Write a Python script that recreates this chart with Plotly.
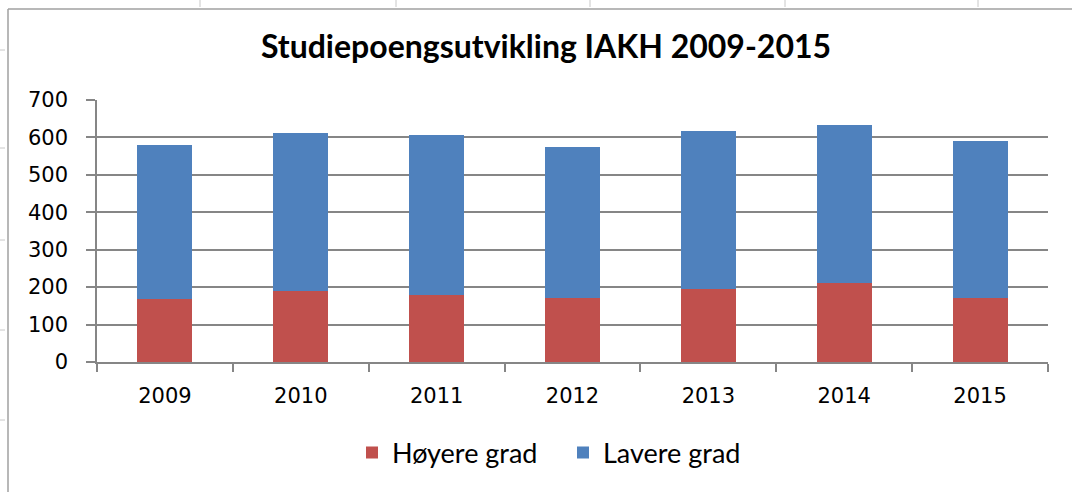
import plotly.graph_objects as go

years = ["2009", "2010", "2011", "2012", "2013", "2014", "2015"]
hoyere = [168, 190, 179, 172, 195, 211, 172]
lavere = [411, 422, 427, 403, 422, 423, 419]
y_ticks = [0, 100, 200, 300, 400, 500, 600, 700]

W, H = 1072, 492
L, R, T, B = 97, 24, 100, 130
pw, ph = W - L - R, H - T - B

def px(x):
    return (x - L) / pw

def py(y):
    return (H - B - y) / ph

fig = go.Figure()
fig.add_trace(go.Bar(name="Høyere grad", x=years, y=hoyere, marker_color="#C0504D", marker_line_width=0))
fig.add_trace(go.Bar(name="Lavere grad", x=years, y=lavere, marker_color="#4F81BD", marker_line_width=0))

shapes = [
    dict(type="line", xref="paper", yref="paper", x0=px(8), x1=px(W), y0=py(9), y1=py(9),
         line=dict(color="#A0A0A0", width=1.5)),
    dict(type="line", xref="paper", yref="paper", x0=px(8), x1=px(8), y0=py(9), y1=py(H),
         line=dict(color="#A0A0A0", width=1.5)),
]
for xs in [200, 396, 590, 785, 978]:
    shapes.append(dict(type="line", xref="paper", yref="paper", x0=px(xs), x1=px(xs), y0=py(0), y1=py(7),
                       line=dict(color="#C8C8C8", width=1)))
for ys in [50, 148, 240, 330, 420]:
    shapes.append(dict(type="line", xref="paper", yref="paper", x0=px(0), x1=px(5), y0=py(ys), y1=py(ys),
                       line=dict(color="#C8C8C8", width=1)))

fig.update_layout(
    width=W, height=H,
    barmode="stack",
    bargap=0.595,
    margin=dict(l=L, r=R, t=T, b=B, pad=0),
    paper_bgcolor="white", plot_bgcolor="white",
    title=dict(text="<b>Studiepoengsutvikling IAKH 2009-2015</b>", x=(546 - L) / pw, xanchor="center",
               xref="paper", y=1 - 47 / H, yanchor="middle",
               font=dict(family="Lato", size=32, color="#000000")),
    font=dict(family="DejaVu Sans", color="#000000"),
    xaxis=dict(type="category", showgrid=False, showline=True, linecolor="#868686", linewidth=1.5,
               ticks="outside", tickson="boundaries", ticklen=8, tickcolor="#868686", tickwidth=1.5,
               tickfont=dict(family="DejaVu Sans", size=21, color="#000000"), ticklabelstandoff=14),
    yaxis=dict(range=[0, 700], tickvals=y_ticks, showgrid=True, gridcolor="#868686", gridwidth=1.5,
               showline=True, linecolor="#868686", linewidth=1.5, zeroline=False,
               ticks="outside", ticklen=9, tickcolor="#868686", tickwidth=1.5,
               tickfont=dict(family="DejaVu Sans", size=21, color="#000000"), ticklabelstandoff=14),
    legend=dict(orientation="h", x=px(352), xanchor="left", y=py(453), yanchor="middle",
                font=dict(family="Lato", size=27, color="#000000"), itemwidth=30,
                entrywidth=166, entrywidthmode="pixels",
                traceorder="normal"),
    shapes=shapes,
    showlegend=True,
)

fig.write_html("out.html", config={"displayModeBar": False},
               post_script="document.body.style.margin='0';document.body.style.overflow='hidden';")
